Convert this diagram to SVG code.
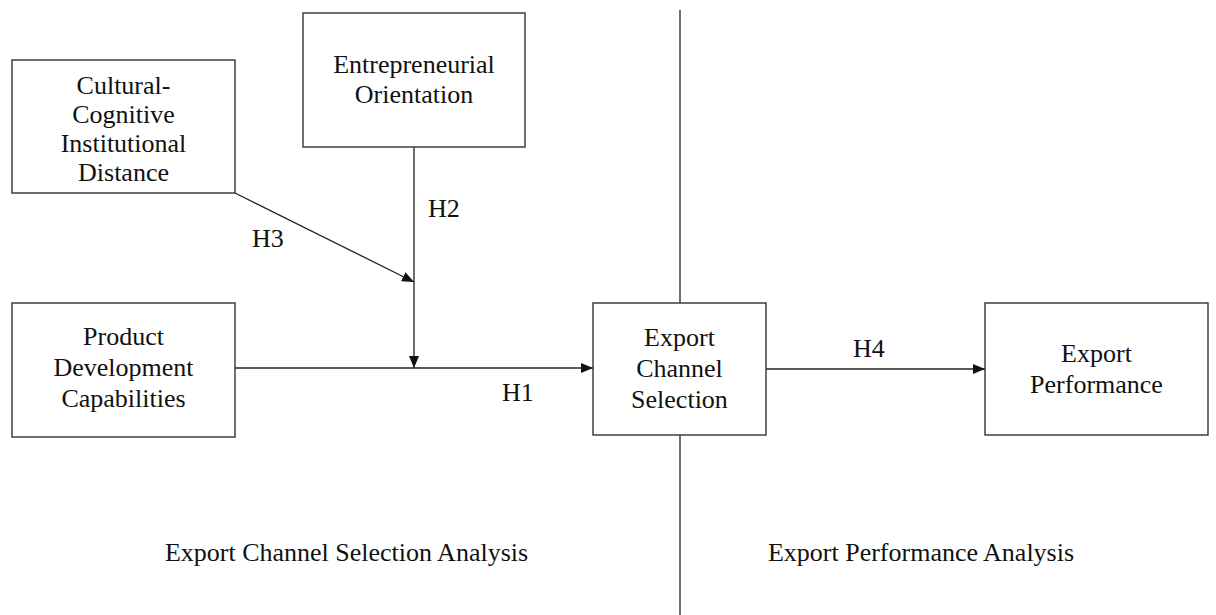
<svg xmlns="http://www.w3.org/2000/svg" width="1216" height="615" viewBox="0 0 1216 615">
<style>
.box{fill:#fff;stroke:#333;stroke-width:1.4}
.ln{fill:none;stroke:#222;stroke-width:1.3}
text{font-family:'Liberation Serif','Times New Roman',Tinos,'DejaVu Serif',serif;font-size:26px;fill:#111;text-anchor:middle}
.lbl{text-anchor:start}
</style>
<defs>
<marker id="ah" viewBox="0 0 12 10" refX="12" refY="5" markerWidth="12" markerHeight="10" markerUnits="userSpaceOnUse" orient="auto">
<path d="M0,0 L12,5 L0,10 Z" fill="#111"/>
</marker>
</defs>
<rect width="1216" height="615" fill="#fff"/>
<g id="connectors">
<line class="ln" x1="680" y1="10" x2="680" y2="615"/>
<line class="ln" x1="235" y1="368" x2="593" y2="368" marker-end="url(#ah)"/>
<line class="ln" x1="414" y1="147" x2="414" y2="368" marker-end="url(#ah)"/>
<line class="ln" x1="235" y1="193" x2="414" y2="282" marker-end="url(#ah)"/>
<line class="ln" x1="766" y1="369" x2="985" y2="369" marker-end="url(#ah)"/>
</g>
<g id="n-cultural">
<rect class="box" x="12" y="60" width="223" height="133"/>
<text x="123.5" y="94">Cultural-</text>
<text x="123.5" y="123">Cognitive</text>
<text x="123.5" y="152">Institutional</text>
<text x="123.5" y="181">Distance</text>
</g>
<g id="n-entre">
<rect class="box" x="303" y="13" width="222" height="134"/>
<text x="414" y="73">Entrepreneurial</text>
<text x="414" y="103">Orientation</text>
</g>
<g id="n-product">
<rect class="box" x="12" y="303" width="223" height="134"/>
<text x="123.5" y="345">Product</text>
<text x="123.5" y="376">Development</text>
<text x="123.5" y="407">Capabilities</text>
</g>
<g id="n-ecs">
<rect class="box" x="593" y="303" width="173" height="132"/>
<text x="679.5" y="346">Export</text>
<text x="679.5" y="377">Channel</text>
<text x="679.5" y="408">Selection</text>
</g>
<g id="n-ep">
<rect class="box" x="985" y="303" width="223" height="132"/>
<text x="1096.5" y="362">Export</text>
<text x="1096.5" y="393">Performance</text>
</g>
<g id="labels">
<text class="lbl" x="428" y="217">H2</text>
<text class="lbl" x="252" y="247">H3</text>
<text class="lbl" x="502" y="401">H1</text>
<text class="lbl" x="853" y="357">H4</text>
<text x="346.5" y="561">Export Channel Selection Analysis</text>
<text x="921" y="561">Export Performance Analysis</text>
</g>
</svg>
